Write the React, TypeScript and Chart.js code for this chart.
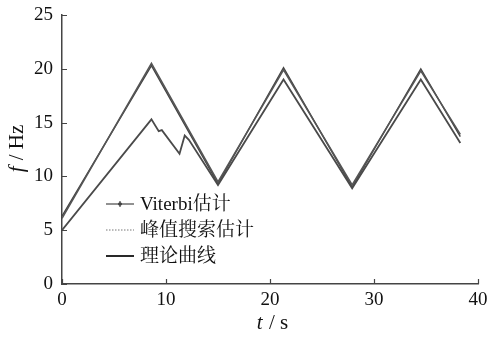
import React, { useEffect, useRef } from "react";
import { Chart, registerables } from "chart.js";

Chart.register(...registerables);

// Theory curve vertices
const theoryT = [0, 8.6, 15.0, 21.3, 27.9, 34.5, 38.3];
const theoryF = [6.3, 20.3, 9.3, 20.1, 9.0, 20.0, 13.7];

// Viterbi estimate vertices
const viterbiT = [0, 8.6, 15.0, 21.3, 27.9, 34.5, 38.3];
const viterbiF = [6.1, 20.5, 9.5, 19.9, 9.2, 19.8, 13.9];

// Peak search estimate vertices
const peakT = [0, 8.6, 9.3, 9.6, 11.3, 11.8, 12.2, 15.0, 21.3, 27.9, 34.5, 38.3];
const peakF = [5.0, 15.3, 14.2, 14.3, 12.1, 13.8, 13.4, 9.2, 19.0, 8.9, 19.0, 13.1];

const xTicks = [0, 10, 20, 30, 40];
const yTicks = [0, 5, 10, 15, 20, 25];

const labels = ["Viterbi估计", "峰值搜索估计", "理论曲线"];
const xTitle = ["t", " / s"];
const yTitle = ["f", " / Hz"];

const SERIF = "'Liberation Serif', 'Times New Roman', 'Noto Serif CJK SC', 'Noto Sans CJK SC', serif";

const toPts = (xs: number[], ys: number[]) => xs.map((x, i) => ({ x, y: ys[i] }));

export default function App() {
  const ref = useRef<HTMLCanvasElement | null>(null);

  useEffect(() => {
    document.body.style.margin = "0";
    const canvas = ref.current;
    if (!canvas) return;

    const overlay = {
      id: "overlay",
      afterDraw(chart: any) {
        const ctx = chart.ctx;
        const xs = chart.scales.x;
        const ys = chart.scales.y;
        const ca = chart.chartArea;
        ctx.save();
        // inward ticks
        ctx.strokeStyle = "#444";
        ctx.lineWidth = 1.2;
        ctx.beginPath();
        xTicks.forEach((t) => {
          const px = Math.round(xs.getPixelForValue(t)) + 0.5;
          ctx.moveTo(px, ca.bottom);
          ctx.lineTo(px, ca.bottom - 5);
        });
        yTicks.forEach((t) => {
          const py = Math.round(ys.getPixelForValue(t)) + 0.5;
          ctx.moveTo(ca.left, py);
          ctx.lineTo(ca.left + 5, py);
        });
        ctx.stroke();

        // axis titles
        ctx.fillStyle = "#111";
        ctx.textBaseline = "middle";
        const drawMixed = (parts: string[], cx: number, cy: number) => {
          ctx.font = "italic 21px " + SERIF;
          const w0 = ctx.measureText(parts[0]).width;
          ctx.font = "21px " + SERIF;
          const w1 = ctx.measureText(parts[1]).width;
          const x = cx - (w0 + w1) / 2;
          ctx.textAlign = "left";
          ctx.font = "italic 21px " + SERIF;
          ctx.fillText(parts[0], x, cy);
          ctx.font = "21px " + SERIF;
          ctx.fillText(parts[1], x + w0 + 1, cy);
        };
        drawMixed(xTitle, 272, 323);
        ctx.save();
        ctx.translate(17, 149);
        ctx.rotate(-Math.PI / 2);
        drawMixed(yTitle, 0, 0);
        ctx.restore();

        // legend
        const rows = [204, 230, 256];
        const x0 = 106, x1 = 134, tx = 140;
        // Viterbi
        ctx.strokeStyle = "#555";
        ctx.lineWidth = 1.3;
        ctx.setLineDash([]);
        ctx.beginPath();
        ctx.moveTo(x0, rows[0]);
        ctx.lineTo(x1, rows[0]);
        ctx.stroke();
        ctx.fillStyle = "#222";
        ctx.beginPath();
        ctx.arc((x0 + x1) / 2, rows[0], 1.8, 0, Math.PI * 2);
        ctx.fill();
        ctx.beginPath();
        ctx.moveTo((x0 + x1) / 2, rows[0] - 3);
        ctx.lineTo((x0 + x1) / 2, rows[0] + 3);
        ctx.stroke();
        // peak
        ctx.strokeStyle = "#777";
        ctx.lineWidth = 1;
        ctx.setLineDash([1.5, 1.5]);
        ctx.beginPath();
        ctx.moveTo(x0, rows[1]);
        ctx.lineTo(x1, rows[1]);
        ctx.stroke();
        // theory
        ctx.setLineDash([]);
        ctx.strokeStyle = "#111";
        ctx.lineWidth = 1.8;
        ctx.beginPath();
        ctx.moveTo(x0, rows[2]);
        ctx.lineTo(x1, rows[2]);
        ctx.stroke();

        ctx.fillStyle = "#111";
        ctx.font = "19px " + SERIF;
        ctx.textAlign = "left";
        ctx.textBaseline = "middle";
        labels.forEach((l, i) => ctx.fillText(l, tx, rows[i] + 1));
        ctx.restore();
      },
    };

    const chart = new Chart(canvas, {
      type: "scatter",
      data: {
        datasets: [
          {
            label: labels[0],
            data: toPts(viterbiT, viterbiF),
            showLine: true,
            borderColor: "#555",
            backgroundColor: "#555",
            borderWidth: 1.6,
            pointRadius: 0,
            tension: 0,
          },
          {
            label: labels[1],
            data: toPts(peakT, peakF),
            showLine: true,
            borderColor: "#4a4a4a",
            backgroundColor: "#4a4a4a",
            borderWidth: 1.8,
            pointRadius: 0,
            tension: 0,
          },
          {
            label: labels[2],
            data: toPts(theoryT, theoryF),
            showLine: true,
            borderColor: "#444",
            backgroundColor: "#444",
            borderWidth: 1.4,
            pointRadius: 0,
            tension: 0,
          },
        ],
      },
      options: {
        animation: false,
        responsive: true,
        maintainAspectRatio: false,
        layout: { padding: { left: 0, right: 9, top: 15, bottom: 0 } },
        plugins: { legend: { display: false }, tooltip: { enabled: false } },
        scales: {
          x: {
            type: "linear",
            min: 0,
            max: 40,
            afterFit: (s: any) => {
              s.height = 55;
              s.paddingLeft = 0;
              s.paddingRight = 0;
            },
            afterBuildTicks: (s: any) => {
              s.ticks = xTicks.map((v) => ({ value: v }));
            },
            ticks: {
              color: "#111",
              padding: 5,
              font: { family: SERIF, size: 19 },
              maxRotation: 0,
            },
            grid: { display: true, drawOnChartArea: false, drawTicks: false },
            border: { display: true, color: "#444", width: 1.5 },
          },
          y: {
            type: "linear",
            min: 0,
            max: 25,
            afterFit: (s: any) => {
              s.width = 62;
              s.paddingTop = 0;
              s.paddingBottom = 0;
            },
            afterBuildTicks: (s: any) => {
              s.ticks = yTicks.map((v) => ({ value: v }));
            },
            ticks: {
              color: "#111",
              padding: 9,
              font: { family: SERIF, size: 19 },
            },
            grid: { display: true, drawOnChartArea: false, drawTicks: false },
            border: { display: true, color: "#444", width: 1.5 },
          },
        },
      },
      plugins: [overlay],
    });

    return () => chart.destroy();
  }, []);

  return (
    <div style={{ position: "fixed", left: 0, top: 0, width: 487, height: 339, background: "#fff" }}>
      <canvas ref={ref} />
    </div>
  );
}
